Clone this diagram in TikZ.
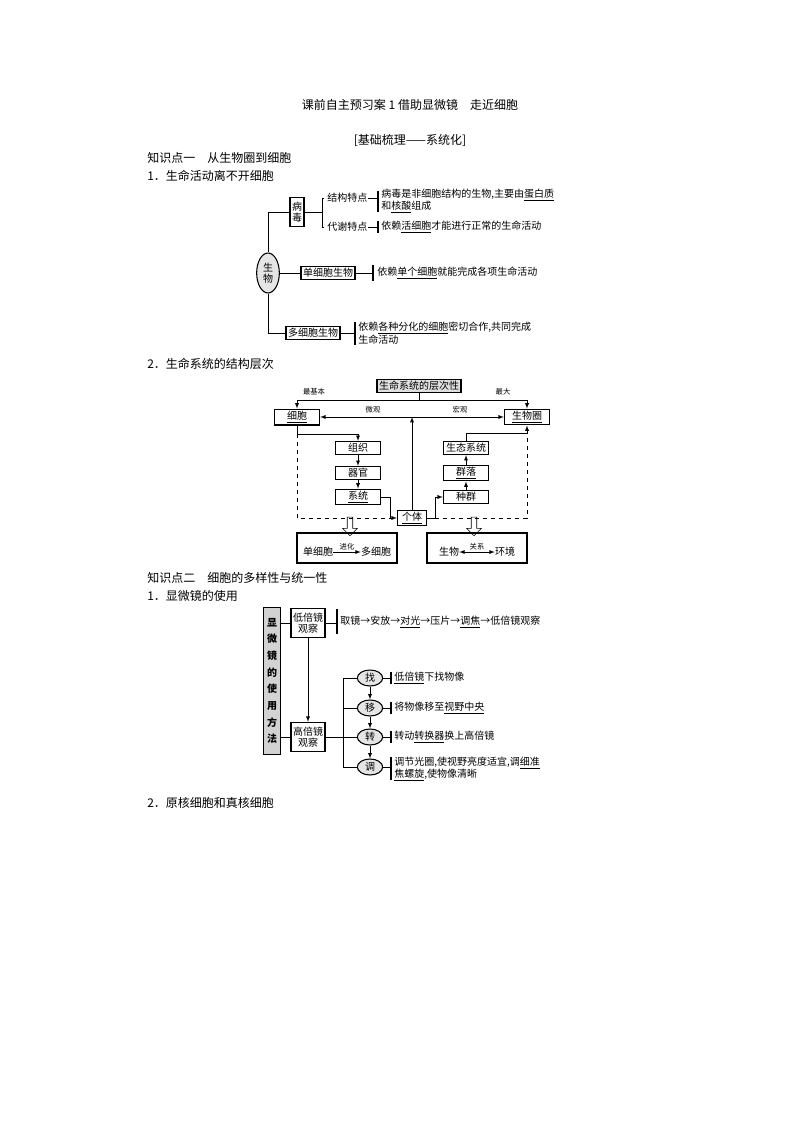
\documentclass[tikz,border=0pt]{standalone}
\usepackage{fontspec}
\setmainfont{Noto Sans CJK SC}
\usetikzlibrary{positioning,arrows,shapes.geometric,shapes.arrows}
\newcommand{\ul}[1]{\underline{#1}}
\tikzset{
  box/.style={draw, thick, inner sep=1.5pt, font=\fontsize{7.5}{8.5}\selectfont, align=center},
  oval/.style={ellipse, draw, thick, fill=gray!20, inner sep=0.5pt, font=\fontsize{7.5}{8.5}\selectfont},
  txt/.style={inner sep=0pt, anchor=west, align=left, font=\fontsize{7.5}{9.5}\selectfont},
  lbl/.style={inner sep=0pt, font=\fontsize{5.5}{6}\selectfont},
  head/.style={inner sep=0pt, anchor=west, font=\fontsize{9}{10}\selectfont},
  bar/.style={thick},
  arr/.style={-latex}
}
\begin{document}
\begin{tikzpicture}[x=0.75pt, y=-0.75pt]
            \useasboundingbox (0,0) rectangle (794,1123);
            % Headings
            \node[inner sep=0pt, font=\fontsize{9}{10}\selectfont] (title) at (410,105) {课前自主预习案\ 1\ 借助显微镜\quad 走近细胞};
            \node[inner sep=0pt, font=\fontsize{9}{10}\selectfont] (sub) at (410,140) {[基础梳理——系统化]};
            \node[head] (k1) at (147,158) {知识点一\quad 从生物圈到细胞};
            \node[head] (k1a) at (147,176) {1．生命活动离不开细胞};

            % Diagram 1
            \node[oval, minimum width=17pt, minimum height=30pt, align=center] (sw) at (268,273) {生\\物};
            \node[box, minimum height=22pt] (bd) at (297,212) {病\\毒};
            \node[box] (dx) at (328,273) {单细胞生物};
            \node[box] (dd) at (313,333) {多细胞生物};
            \draw (sw.north) -- (268,212) -- (bd.west);
            \draw (sw.south) -- (268,333) -- (dd.west);
            \draw (sw.east) -- (dx.west);
            \draw (bd.east) -- (322,212);
            \draw (324,198) -- (322,198) -- (322,227) -- (324,227);
            \node[txt] (jg) at (327,198) {结构特点};
            \node[txt] (dx1) at (327,227) {代谢特点};
            \draw (jg.east) -- (378,198);
            \draw (dx1.east) -- (378,227);
            \draw[bar] (378,191) -- (378,212);
            \draw[bar] (378,221) -- (378,233);
            \node[txt] (jgt) at (381,201) {病毒是非细胞结构的生物,主要由\ul{蛋白质}\\和\ul{核酸}组成};
            \node[txt] (dxt) at (381,227) {依赖\ul{活细胞}才能进行正常的生命活动};
            \draw (dx.east) -- (373,273);
            \draw[bar] (373,265) -- (373,281);
            \node[txt] (dxw) at (377,273) {依赖\ul{单个细胞}就能完成各项生命活动};
            \draw (dd.east) -- (355,333);
            \draw[bar] (355,322) -- (355,345);
            \node[txt] (ddw) at (358,333) {依赖\ul{各种分化的细胞}密切合作,共同完成\\生命活动};

            \node[head] (k1b) at (147,364) {2．生命系统的结构层次};

            % Diagram 2
            \node[box, fill=gray!25, font=\fontsize{7.5}{8}\selectfont] (cc) at (419,386) {生命系统的层次性};
            \node[box, minimum width=34pt] (xb) at (297,417) {\ul{细胞}};
            \node[box, minimum width=34pt] (swq) at (527,417) {\ul{生物圈}};
            \node[box, minimum width=34pt] (zz) at (358,448) {组织};
            \node[box, minimum width=34pt] (qg) at (358,473) {器官};
            \node[box, minimum width=34pt] (xt) at (358,497) {\ul{系统}};
            \node[box, minimum width=22pt] (gt) at (412,518) {\ul{个体}};
            \node[box, minimum width=34pt] (zq) at (466,497) {种群};
            \node[box, minimum width=34pt] (ql) at (466,473) {\ul{群落}};
            \node[box, minimum width=34pt] (st) at (466,448) {生态系统};
            \node[lbl] (zjb) at (314,392) {最基本};
            \node[lbl] (zd) at (503,392) {最大};
            \node[lbl] (wg) at (373,410) {微观};
            \node[lbl] (hg) at (460,410) {宏观};
            \draw (cc.south) -- (419,400);
            \draw[arr] (419,400) -- (297,400) -- (xb.north);
            \draw[arr] (419,400) -- (527,400) -- (swq.north);
            \draw[latex-latex] (xb.east) -- (swq.west);
            \draw[arr] (gt.north) -- (412,417);
            \draw[arr] (297,425) -- (297,434) -- (358,434) -- (zz.north);
            \draw[arr] (zz) -- (qg);
            \draw[arr] (qg) -- (xt);
            \draw[arr] (xt.east) -- (390,497) -- (390,518) -- (gt.west);
            \draw[arr] (gt.east) -- (435,518) -- (435,497) -- (zq.west);
            \draw[arr] (zq) -- (ql);
            \draw[arr] (ql) -- (st);
            \draw[arr] (st.north) -- (466,433) -- (527,433) -- (swq.south);
            \draw[dashed] (297,434) -- (297,518) -- (gt.west);
            \draw[dashed] (gt.east) -- (527,518) -- (527,433);
            \node[single arrow, draw, shape border rotate=270, minimum height=14pt, minimum width=11pt, single arrow head extend=2pt, inner sep=1pt] (ha1) at (350,525) {};
            \node[single arrow, draw, shape border rotate=270, minimum height=14pt, minimum width=11pt, single arrow head extend=2pt, inner sep=1pt] (ha2) at (474,525) {};
            \draw[thick] (297,533) rectangle (397,563);
            \draw[thick] (427,533) rectangle (527,563);
            \node[txt, anchor=center] (dxb) at (318,552) {单细胞};
            \node[txt, anchor=center] (ddb) at (376,552) {多细胞};
            \draw[arr] (dxb) -- node[lbl, above=1pt] {进化} (ddb);
            \node[txt, anchor=center] (swb) at (449,552) {生物};
            \node[txt, anchor=center] (hjb) at (505,552) {环境};
            \draw[latex-latex] (swb) -- node[lbl, above=1pt] {关系} (hjb);

            \node[head] (k2) at (147,578) {知识点二\quad 细胞的多样性与统一性};
            \node[head] (k2a) at (147,596) {1．显微镜的使用};

            % Diagram 3
            \node[box, fill=gray!35, minimum width=13pt, minimum height=110pt, font=\fontsize{7.5}{12.5}\selectfont\bfseries] (ff) at (272,681) {显\\微\\镜\\的\\使\\用\\方\\法};
            \node[box, minimum height=22pt] (dbj) at (308,623) {低倍镜\\观察};
            \node[box, minimum height=22pt] (gbj) at (308,737) {高倍镜\\观察};
            \draw (ff.east |- dbj) -- (dbj.west);
            \draw (ff.east |- gbj) -- (gbj.west);
            \draw[arr] (dbj.south) -- (gbj.north);
            \draw (dbj.east) -- (337,623);
            \draw[bar] (337,609) -- (337,634);
            \node[txt] (bz) at (340,622) {取镜→安放→\ul{对光}→压片→\ul{调焦}→低倍镜观察};
            \node[oval, minimum width=19pt, minimum height=12pt] (z1) at (370,678) {找};
            \node[oval, minimum width=19pt, minimum height=12pt] (z2) at (370,708) {移};
            \node[oval, minimum width=19pt, minimum height=12pt] (z3) at (370,737) {转};
            \node[oval, minimum width=19pt, minimum height=12pt] (z4) at (370,767) {调};
            \draw (gbj.east) -- (343,737);
            \draw (z1.west) -- (343,678) -- (343,767) -- (z4.west);
            \draw (343,708) -- (z2.west);
            \draw (343,737) -- (z3.west);
            \draw[arr] (z1) -- (z2);
            \draw[arr] (z2) -- (z3);
            \draw[arr] (z3) -- (z4);
            \foreach \n/\y in {z1/678, z2/708, z3/737} {
              \draw (\n.east) -- (391,\y);
              \draw[bar] (391,\y-6) -- (391,\y+6);
            }
            \draw (z4.east) -- (391,767);
            \draw[bar] (391,757) -- (391,780);
            \node[txt] (t1) at (394,678) {\ul{低倍镜}下找物像};
            \node[txt] (t2) at (394,708) {将物像移至\ul{视野中央}};
            \node[txt] (t3) at (394,737) {转动\ul{转换器}换上高倍镜};
            \node[txt] (t4) at (394,769) {调节光圈,使视野亮度适宜,调\ul{细准}\\\ul{焦螺旋},使物像清晰};

            \node[head] (k2b) at (147,803) {2．原核细胞和真核细胞};
        \end{tikzpicture}
\end{document}
